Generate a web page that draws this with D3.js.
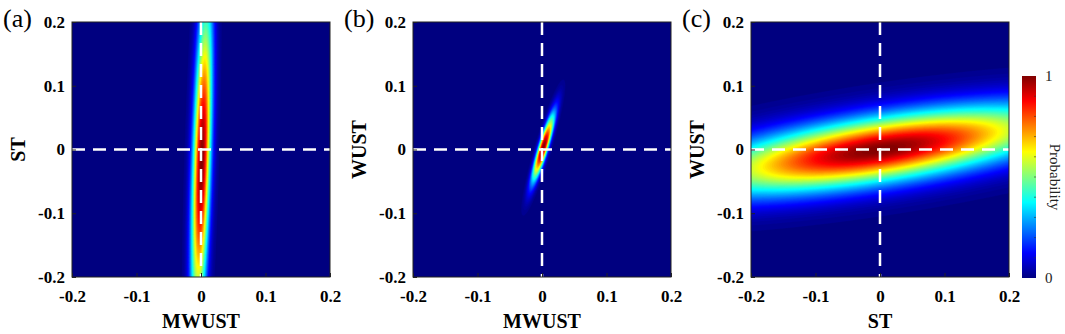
<!DOCTYPE html>
<meta charset="utf-8">
<style>
body { margin: 0; background: #fff; }
text { font-family: "Liberation Serif", "Times New Roman", serif; }
.tick text { font-size: 17px; font-weight: bold; fill: #000; }
.axis-label { font-size: 20px; font-weight: bold; text-anchor: middle; }
.panel-tag { font-size: 26px; }
.cbar text { font-size: 15px; fill: #222; }
</style>
<body>
<div id="chart"></div>
<script src="https://d3js.org/d3.v7.min.js"></script>
<script>

// panel texts
var panelTags = ["(a)", "(b)", "(c)"];
var xLabels = ["MWUST", "MWUST", "ST"];
var yLabels = ["ST", "WUST", "WUST"];

// bivariate normal parameters (peak normalised to 1)
var meanX = [0.001, 0.002, 0.0];
var meanY = [-0.02, 0.003, 0.0];
var sdX = [0.0103, 0.0113, 0.19];
var sdY = [0.17, 0.0355, 0.0451];
var rho = [0.493, 0.911, 0.632];

var axisTicks = [-0.2, -0.1, 0, 0.1, 0.2];
var tickLabels = ["-0.2", "-0.1", "0", "0.1", "0.2"];
var colorbarTicks = [0, 1];
var colorbarTickLabels = ["0", "1"];
var colorbarLabel = "Probability";

var width = 1065, height = 334;
var panelLeft = [72, 413, 751],
    panelWidth = 258,
    plotTop = 22,
    plotBottom = 277;

// MATLAB jet colormap
function jet(t) {
  function c(v) { return Math.max(0, Math.min(1, v)); }
  var r = c(1.5 - Math.abs(4 * t - 3)),
      g = c(1.5 - Math.abs(4 * t - 2)),
      b = c(1.5 - Math.abs(4 * t - 1));
  return d3.rgb(r * 255, g * 255, b * 255).toString();
}
var color = d3.scaleSequential(jet).domain([0, 1]);

var svg = d3.select("#chart").append("svg")
  .attr("width", width)
  .attr("height", height);

var defs = svg.append("defs");

var nGrid = 300;
var levels = d3.range(1, 90).map(function(i) { return i / 90; });

panelTags.forEach(function(tag, p) {
  var x0 = panelLeft[p], x1 = x0 + panelWidth;
  var x = d3.scaleLinear().domain([-0.2, 0.2]).range([x0, x1]);
  var y = d3.scaleLinear().domain([-0.2, 0.2]).range([plotBottom, plotTop]);

  // density grid, row 0 at the top
  var values = new Array(nGrid * nGrid);
  var sx = sdX[p], sy = sdY[p], r = rho[p];
  for (var j = 0; j < nGrid; j++) {
    var vy = 0.2 - 0.4 * (j + 0.5) / nGrid;
    for (var i = 0; i < nGrid; i++) {
      var vx = -0.2 + 0.4 * (i + 0.5) / nGrid;
      var zx = (vx - meanX[p]) / sx, zy = (vy - meanY[p]) / sy;
      var q = (zx * zx - 2 * r * zx * zy + zy * zy) / (1 - r * r);
      values[j * nGrid + i] = Math.exp(-0.5 * q);
    }
  }
  var peak = d3.max(values);
  values = values.map(function(v) { return v / peak; });

  var gx = d3.scaleLinear().domain([0, nGrid]).range([x0, x1]);
  var gy = d3.scaleLinear().domain([0, nGrid]).range([plotTop, plotBottom]);
  var path = d3.geoPath(d3.geoTransform({
    point: function(a, b) { this.stream.point(gx(a), gy(b)); }
  }));

  var contours = d3.contours().size([nGrid, nGrid]).thresholds(levels)(values);

  defs.append("clipPath").attr("id", "clip" + p)
    .append("rect")
    .attr("x", x0).attr("y", plotTop)
    .attr("width", panelWidth).attr("height", plotBottom - plotTop);

  var g = svg.append("g");
  var plot = g.append("g").attr("clip-path", "url(#clip" + p + ")");

  plot.append("rect")
    .attr("x", x0).attr("y", plotTop)
    .attr("width", panelWidth).attr("height", plotBottom - plotTop)
    .attr("fill", color(0));

  var step = 1 / 90;
  plot.selectAll("path.band")
    .data(contours)
    .enter().append("path")
    .attr("class", "band")
    .attr("d", path)
    .attr("fill", function(d) { return color(Math.min(1, d.value + step / 2)); })
    .attr("stroke", function(d) { return color(Math.min(1, d.value + step / 2)); })
    .attr("stroke-width", 0.3);

  // zero lines
  plot.append("line")
    .attr("x1", x(0)).attr("x2", x(0))
    .attr("y1", plotTop).attr("y2", plotBottom)
    .attr("stroke", "#fff").attr("stroke-width", 2.5)
    .attr("stroke-dasharray", "13,8");
  plot.append("line")
    .attr("x1", x0).attr("x2", x1)
    .attr("y1", y(0)).attr("y2", y(0))
    .attr("stroke", "#fff").attr("stroke-width", 2.5)
    .attr("stroke-dasharray", "13,8");

  // axes
  var xAxis = g.append("g")
    .attr("transform", "translate(0," + plotBottom + ")")
    .call(d3.axisBottom(x).tickValues(axisTicks)
      .tickFormat(function(d, i) { return tickLabels[i]; })
      .tickSizeInner(-4).tickSizeOuter(0).tickPadding(13));
  xAxis.select(".domain").remove();
  xAxis.selectAll(".tick line").attr("stroke", "#222");

  var yAxis = g.append("g")
    .attr("transform", "translate(" + x0 + ",0)")
    .call(d3.axisLeft(y).tickValues(axisTicks)
      .tickFormat(function(d, i) { return tickLabels[i]; })
      .tickSizeInner(-4).tickSizeOuter(0).tickPadding(7));
  yAxis.select(".domain").remove();
  yAxis.selectAll(".tick line").attr("stroke", "#222");

  g.append("rect")
    .attr("x", x0).attr("y", plotTop)
    .attr("width", panelWidth).attr("height", plotBottom - plotTop)
    .attr("fill", "none").attr("stroke", "#222").attr("stroke-width", 1);

  g.append("text")
    .attr("class", "axis-label")
    .attr("x", (x0 + x1) / 2)
    .attr("y", 328)
    .text(xLabels[p]);

  g.append("text")
    .attr("class", "axis-label")
    .attr("transform", "translate(" + (x0 - 47) + "," + ((plotTop + plotBottom) / 2) + ") rotate(-90)")
    .text(yLabels[p]);

  g.append("text")
    .attr("class", "panel-tag")
    .attr("x", x0 - 69)
    .attr("y", 27)
    .text(tag);
});

// colorbar
var cbX = 1022, cbW = 14, cbTop = 76, cbBottom = 278;
var grad = defs.append("linearGradient").attr("id", "jetgrad")
  .attr("x1", 0).attr("y1", 1).attr("x2", 0).attr("y2", 0);
grad.selectAll("stop")
  .data(d3.range(0, 65).map(function(i) { return i / 64; }))
  .enter().append("stop")
  .attr("offset", function(d) { return d; })
  .attr("stop-color", function(d) { return color(d); });

var cb = svg.append("g").attr("class", "cbar");
var cbScale = d3.scaleLinear().domain([0, 1]).range([cbBottom, cbTop]);
cb.append("rect")
  .attr("x", cbX).attr("y", cbTop)
  .attr("width", cbW).attr("height", cbBottom - cbTop)
  .attr("fill", "url(#jetgrad)");
cb.selectAll("line.minor")
  .data(d3.range(1, 10).map(function(i) { return i / 10; }))
  .enter().append("line")
  .attr("class", "minor")
  .attr("x1", cbX + cbW - 2).attr("x2", cbX + cbW)
  .attr("y1", function(d) { return cbScale(d); })
  .attr("y2", function(d) { return cbScale(d); })
  .attr("stroke", "#333").attr("stroke-width", 0.6);
cb.selectAll("text.tl")
  .data(colorbarTicks)
  .enter().append("text")
  .attr("class", "tl")
  .attr("x", cbX + cbW + 9)
  .attr("y", function(d) { return cbScale(d); })
  .attr("dy", "0.35em")
  .text(function(d, i) { return colorbarTickLabels[i]; });
cb.append("text")
  .attr("transform", "translate(1050," + ((cbTop + cbBottom) / 2) + ") rotate(90)")
  .attr("text-anchor", "middle")
  .text(colorbarLabel);

</script>
</body>
